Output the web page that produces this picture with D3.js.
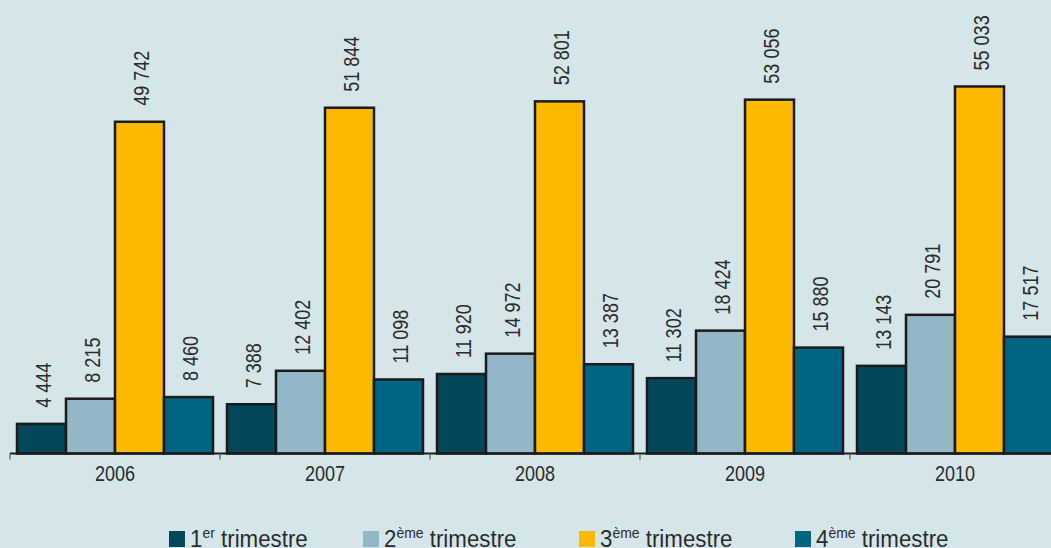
<!DOCTYPE html>
<html><head><meta charset="utf-8">
<script src="https://cdn.jsdelivr.net/npm/d3@7"></script>
<style>
html,body{margin:0;padding:0;background:#d5e6eb;overflow:hidden;}
svg{display:block;}
text{font-family:"Liberation Sans",Arial,sans-serif;fill:#2b2b2b;}
</style></head>
<body><svg id="c" width="1051" height="548"></svg>
<script>
const years = ["2006","2007","2008","2009","2010"];
const seriesNames = [["1","er"],["2","ème"],["3","ème"],["4","ème"]];
const colors = ["#02475a","#93b7c7","#fdb900","#006583"];
const q1 = [4444, 7388, 11920, 11302, 13143];
const q2 = [8215, 12402, 14972, 18424, 20791];
const q3 = [49742, 51844, 52801, 53056, 55033];
const q4 = [8460, 11098, 13387, 15880, 17517];
const series = [q1,q2,q3,q4];

const W = 1051, H = 548;
const COND = 0.82;
const svg = d3.select("#c");
svg.append("rect").attr("width",W).attr("height",H).attr("fill","#d5e6eb");

const baseY = 453.5;
const x0 = d3.scaleBand().domain(years).range([10, 1060]).padding(0);
const x1 = d3.scaleBand().domain(d3.range(4)).range([7, 203]).padding(0);
const y = d3.scaleLinear().domain([0, 68000]).range([baseY, 0]);

const fmt = v => d3.format(",")(v).replace(/,/g, " ");

const g = svg.append("g");
years.forEach((yr, i) => {
  const gg = g.append("g").attr("transform", `translate(${x0(yr)},0)`);
  series.forEach((s, k) => {
    const v = s[i];
    gg.append("rect")
      .attr("x", x1(k)).attr("width", x1.bandwidth())
      .attr("y", y(v)).attr("height", baseY - y(v))
      .attr("fill", colors[k]).attr("stroke", "#1b1b1b").attr("stroke-width", 2.5);
    const cx = x1(k) + x1.bandwidth()/2;
    gg.append("text")
      .attr("transform", `translate(${cx},${y(v) - 16}) rotate(-90) scale(${COND},1)`)
      .attr("dy", "0.42em")
      .attr("text-anchor", "start")
      .style("font-size", "22px")
      .text(fmt(v));
  });
});

// axis
const axis = d3.axisBottom(x0).tickSize(0).tickPadding(12);
const ax = svg.append("g").attr("transform", `translate(0,${baseY})`).call(axis);
ax.select(".domain").remove();
ax.selectAll("text").style("font-size","22px").attr("fill","#2b2b2b")
  .style("font-family",'"Liberation Sans",Arial,sans-serif')
  .attr("transform", `scale(${COND},1)`);
svg.append("line").attr("x1",10).attr("x2",W).attr("y1",baseY).attr("y2",baseY)
  .attr("stroke","#1b1b1b").attr("stroke-width",2);
years.forEach(yr => {
  svg.append("line").attr("x1",x0(yr)).attr("x2",x0(yr)).attr("y1",baseY).attr("y2",baseY+6)
    .attr("stroke","#555").attr("stroke-width",1.2);
});

// legend
const legendX = [169, 363, 579, 795];
const leg = svg.append("g");
seriesNames.forEach((nm, k) => {
  const lx = legendX[k];
  leg.append("rect").attr("x", lx).attr("y", 531).attr("width", 16).attr("height", 16).attr("fill", colors[k]);
  const t = leg.append("text")
    .attr("transform", `translate(${lx + 21},546.5) scale(0.93,1)`)
    .style("font-size","24px");
  t.append("tspan").text(nm[0]);
  t.append("tspan").attr("dy", -9).style("font-size","15px").text(nm[1]);
  t.append("tspan").attr("dy", 9).text(" trimestre");
});
</script></body></html>
